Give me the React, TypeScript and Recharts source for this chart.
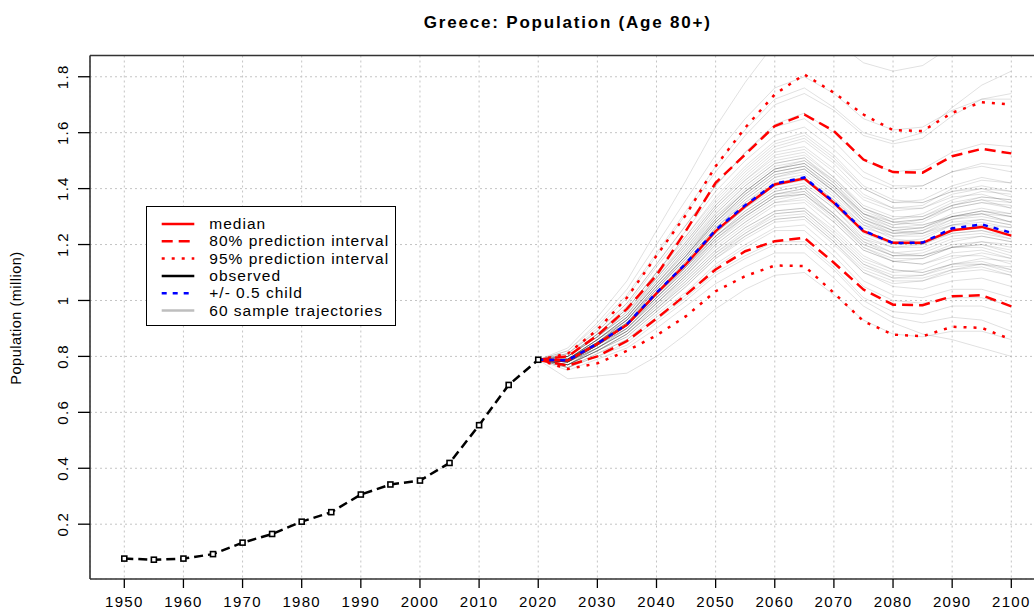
import React from 'react';
import { LineChart, Line, XAxis, YAxis, CartesianGrid, ReferenceLine } from 'recharts';

// years on the x axis (5-year steps)
const YEARS = [
  1950, 1955, 1960, 1965, 1970, 1975, 1980, 1985, 1990, 1995, 2000, 2005, 2010, 2015, 2020,
  2025, 2030, 2035, 2040, 2045, 2050, 2055, 2060, 2065, 2070, 2075, 2080, 2085, 2090, 2095, 2100,
];
const OBS_YEARS = [1950, 1955, 1960, 1965, 1970, 1975, 1980, 1985, 1990, 1995, 2000, 2005, 2010, 2015, 2020];
const OBSERVED = [0.077, 0.073, 0.077, 0.093, 0.134, 0.165, 0.209, 0.243, 0.306, 0.342, 0.356, 0.419, 0.554, 0.698, 0.788];

const PROJ_YEARS = [2020, 2025, 2030, 2035, 2040, 2045, 2050, 2055, 2060, 2065, 2070, 2075, 2080, 2085, 2090, 2095, 2100];
const MEDIAN = [0.788, 0.785, 0.845, 0.913, 1.025, 1.13, 1.248, 1.337, 1.415, 1.436, 1.349, 1.248, 1.206, 1.206, 1.251, 1.263, 1.232];
const HALF_CHILD = [0.788, 0.786, 0.846, 0.915, 1.028, 1.133, 1.252, 1.341, 1.418, 1.44, 1.352, 1.25, 1.205, 1.207, 1.258, 1.272, 1.242];
const PI80_LOW = [0.788, 0.767, 0.8, 0.855, 0.935, 1.021, 1.111, 1.176, 1.212, 1.224, 1.135, 1.039, 0.985, 0.983, 1.015, 1.019, 0.979];
const PI80_HIGH = [0.788, 0.8, 0.875, 0.97, 1.09, 1.25, 1.421, 1.522, 1.624, 1.665, 1.606, 1.504, 1.459, 1.457, 1.516, 1.542, 1.526];
const PI95_LOW = [0.788, 0.755, 0.775, 0.82, 0.875, 0.944, 1.033, 1.087, 1.125, 1.123, 1.027, 0.926, 0.878, 0.872, 0.906, 0.902, 0.86];
const PI95_HIGH = [0.788, 0.81, 0.895, 1.01, 1.16, 1.307, 1.48, 1.618, 1.737, 1.808, 1.743, 1.665, 1.609, 1.606, 1.671, 1.709, 1.701];

// 60 sample trajectories, 2025..2100 (all start from the 2020 observed value)
const TRAJECTORIES = [
  [0.79, 0.86, 0.94, 1.06, 1.18, 1.3, 1.4, 1.48, 1.5, 1.42, 1.32, 1.28, 1.29, 1.33, 1.35, 1.33],
  [0.78, 0.83, 0.89, 0.99, 1.09, 1.2, 1.28, 1.35, 1.37, 1.28, 1.18, 1.14, 1.13, 1.17, 1.18, 1.15],
  [0.8, 0.88, 0.97, 1.1, 1.23, 1.36, 1.47, 1.56, 1.59, 1.51, 1.4, 1.35, 1.36, 1.41, 1.44, 1.42],
  [0.77, 0.82, 0.88, 0.97, 1.06, 1.16, 1.23, 1.29, 1.3, 1.21, 1.1, 1.05, 1.04, 1.07, 1.08, 1.05],
  [0.79, 0.85, 0.92, 1.04, 1.15, 1.27, 1.36, 1.44, 1.47, 1.39, 1.29, 1.25, 1.26, 1.31, 1.33, 1.31],
  [0.78, 0.84, 0.9, 1.01, 1.11, 1.22, 1.31, 1.38, 1.4, 1.31, 1.21, 1.17, 1.18, 1.22, 1.23, 1.21],
  [0.81, 0.89, 0.99, 1.13, 1.27, 1.41, 1.53, 1.63, 1.67, 1.6, 1.5, 1.46, 1.47, 1.53, 1.56, 1.55],
  [0.76, 0.8, 0.85, 0.93, 1.01, 1.1, 1.16, 1.21, 1.21, 1.12, 1.01, 0.96, 0.95, 0.98, 0.98, 0.95],
  [0.79, 0.85, 0.93, 1.05, 1.16, 1.28, 1.38, 1.46, 1.48, 1.4, 1.3, 1.26, 1.27, 1.3, 1.31, 1.28],
  [0.78, 0.84, 0.91, 1.02, 1.12, 1.24, 1.33, 1.41, 1.43, 1.35, 1.25, 1.21, 1.22, 1.27, 1.29, 1.27],
  [0.8, 0.87, 0.95, 1.08, 1.2, 1.33, 1.43, 1.51, 1.53, 1.44, 1.33, 1.28, 1.27, 1.3, 1.31, 1.28],
  [0.77, 0.83, 0.89, 0.99, 1.08, 1.18, 1.26, 1.32, 1.33, 1.24, 1.14, 1.1, 1.11, 1.15, 1.17, 1.15],
  [0.79, 0.86, 0.94, 1.06, 1.17, 1.3, 1.39, 1.47, 1.49, 1.41, 1.3, 1.25, 1.24, 1.27, 1.27, 1.24],
  [0.78, 0.84, 0.91, 1.02, 1.13, 1.25, 1.34, 1.42, 1.44, 1.36, 1.26, 1.23, 1.24, 1.29, 1.31, 1.3],
  [0.82, 0.92, 1.04, 1.2, 1.36, 1.52, 1.65, 1.76, 1.8, 1.74, 1.65, 1.61, 1.62, 1.68, 1.72, 1.72],
  [0.72, 0.73, 0.74, 0.8, 0.88, 0.97, 1.04, 1.09, 1.1, 1.02, 0.93, 0.88, 0.87, 0.89, 0.89, 0.86],
  [0.79, 0.85, 0.92, 1.03, 1.14, 1.26, 1.35, 1.43, 1.45, 1.37, 1.27, 1.22, 1.21, 1.24, 1.25, 1.22],
  [0.78, 0.83, 0.9, 1.0, 1.1, 1.21, 1.29, 1.36, 1.38, 1.3, 1.2, 1.16, 1.17, 1.21, 1.23, 1.21],
  [0.8, 0.87, 0.96, 1.09, 1.21, 1.34, 1.45, 1.54, 1.57, 1.49, 1.38, 1.33, 1.33, 1.37, 1.38, 1.35],
  [0.77, 0.82, 0.87, 0.96, 1.05, 1.15, 1.22, 1.28, 1.29, 1.2, 1.1, 1.06, 1.07, 1.11, 1.13, 1.12],
  [0.79, 0.86, 0.93, 1.05, 1.16, 1.29, 1.39, 1.47, 1.5, 1.43, 1.33, 1.29, 1.3, 1.35, 1.37, 1.36],
  [0.78, 0.84, 0.91, 1.01, 1.11, 1.23, 1.31, 1.38, 1.39, 1.3, 1.19, 1.14, 1.13, 1.16, 1.16, 1.13],
  [0.8, 0.88, 0.98, 1.12, 1.25, 1.39, 1.5, 1.59, 1.62, 1.54, 1.44, 1.4, 1.41, 1.46, 1.49, 1.48],
  [0.77, 0.82, 0.88, 0.98, 1.07, 1.17, 1.25, 1.31, 1.32, 1.23, 1.13, 1.08, 1.08, 1.11, 1.12, 1.09],
  [0.79, 0.85, 0.92, 1.04, 1.15, 1.27, 1.37, 1.45, 1.47, 1.39, 1.28, 1.23, 1.23, 1.27, 1.28, 1.26],
  [0.78, 0.85, 0.92, 1.03, 1.14, 1.26, 1.35, 1.42, 1.44, 1.36, 1.27, 1.24, 1.25, 1.3, 1.32, 1.31],
  [0.81, 0.9, 1.01, 1.16, 1.31, 1.46, 1.59, 1.7, 1.74, 1.68, 1.59, 1.56, 1.58, 1.66, 1.72, 1.74],
  [0.76, 0.81, 0.86, 0.95, 1.03, 1.13, 1.2, 1.26, 1.27, 1.18, 1.07, 1.02, 1.01, 1.04, 1.04, 1.01],
  [0.79, 0.86, 0.94, 1.07, 1.19, 1.32, 1.42, 1.5, 1.52, 1.44, 1.34, 1.3, 1.3, 1.34, 1.36, 1.33],
  [0.78, 0.83, 0.9, 1.0, 1.1, 1.22, 1.3, 1.37, 1.38, 1.29, 1.19, 1.15, 1.15, 1.19, 1.2, 1.18],
  [0.8, 0.87, 0.95, 1.07, 1.19, 1.31, 1.41, 1.49, 1.51, 1.43, 1.33, 1.29, 1.31, 1.36, 1.39, 1.38],
  [0.77, 0.83, 0.89, 0.99, 1.09, 1.19, 1.27, 1.34, 1.35, 1.26, 1.16, 1.11, 1.1, 1.13, 1.13, 1.1],
  [0.79, 0.85, 0.93, 1.04, 1.15, 1.28, 1.38, 1.46, 1.48, 1.4, 1.31, 1.27, 1.28, 1.33, 1.35, 1.34],
  [0.78, 0.84, 0.91, 1.02, 1.12, 1.23, 1.32, 1.39, 1.41, 1.33, 1.23, 1.19, 1.19, 1.23, 1.24, 1.22],
  [0.83, 0.94, 1.07, 1.25, 1.43, 1.62, 1.78, 1.92, 1.98, 1.93, 1.85, 1.82, 1.84, 1.91, 1.95, 1.96],
  [0.76, 0.8, 0.84, 0.92, 1.0, 1.09, 1.15, 1.2, 1.2, 1.11, 1.0, 0.94, 0.92, 0.94, 0.93, 0.89],
  [0.79, 0.86, 0.94, 1.06, 1.18, 1.31, 1.41, 1.49, 1.51, 1.42, 1.31, 1.26, 1.26, 1.3, 1.32, 1.3],
  [0.78, 0.84, 0.9, 1.01, 1.11, 1.22, 1.3, 1.37, 1.39, 1.31, 1.22, 1.19, 1.2, 1.25, 1.27, 1.26],
  [0.8, 0.88, 0.97, 1.1, 1.23, 1.37, 1.48, 1.57, 1.6, 1.52, 1.41, 1.36, 1.35, 1.39, 1.4, 1.37],
  [0.77, 0.82, 0.88, 0.97, 1.06, 1.16, 1.24, 1.3, 1.31, 1.22, 1.12, 1.08, 1.09, 1.13, 1.15, 1.14],
  [0.79, 0.85, 0.92, 1.03, 1.14, 1.26, 1.36, 1.44, 1.46, 1.38, 1.28, 1.24, 1.25, 1.29, 1.3, 1.28],
  [0.78, 0.84, 0.91, 1.02, 1.13, 1.24, 1.33, 1.4, 1.42, 1.34, 1.24, 1.2, 1.2, 1.24, 1.25, 1.23],
  [0.8, 0.87, 0.96, 1.08, 1.21, 1.34, 1.44, 1.53, 1.55, 1.47, 1.37, 1.33, 1.34, 1.4, 1.43, 1.42],
  [0.77, 0.83, 0.89, 0.98, 1.08, 1.18, 1.26, 1.32, 1.33, 1.25, 1.15, 1.11, 1.1, 1.13, 1.14, 1.11],
  [0.79, 0.86, 0.93, 1.05, 1.16, 1.28, 1.38, 1.46, 1.48, 1.39, 1.29, 1.24, 1.24, 1.28, 1.29, 1.27],
  [0.78, 0.83, 0.89, 0.99, 1.09, 1.2, 1.28, 1.35, 1.36, 1.28, 1.18, 1.14, 1.15, 1.19, 1.21, 1.2],
  [0.81, 0.89, 0.99, 1.13, 1.27, 1.41, 1.53, 1.62, 1.65, 1.57, 1.46, 1.41, 1.41, 1.46, 1.48, 1.46],
  [0.76, 0.81, 0.86, 0.94, 1.02, 1.12, 1.19, 1.25, 1.25, 1.16, 1.05, 1.0, 0.99, 1.01, 1.01, 0.98],
  [0.79, 0.85, 0.93, 1.04, 1.16, 1.28, 1.37, 1.45, 1.47, 1.39, 1.29, 1.25, 1.26, 1.3, 1.32, 1.3],
  [0.78, 0.84, 0.91, 1.01, 1.12, 1.23, 1.32, 1.39, 1.41, 1.33, 1.22, 1.17, 1.16, 1.19, 1.19, 1.16],
  [0.8, 0.87, 0.95, 1.08, 1.2, 1.33, 1.43, 1.52, 1.54, 1.46, 1.36, 1.32, 1.33, 1.38, 1.4, 1.39],
  [0.77, 0.82, 0.88, 0.97, 1.07, 1.17, 1.24, 1.31, 1.32, 1.23, 1.13, 1.09, 1.09, 1.12, 1.13, 1.11],
  [0.79, 0.86, 0.94, 1.06, 1.17, 1.29, 1.39, 1.47, 1.49, 1.41, 1.31, 1.27, 1.29, 1.34, 1.36, 1.35],
  [0.78, 0.84, 0.9, 1.0, 1.1, 1.21, 1.3, 1.37, 1.38, 1.3, 1.2, 1.16, 1.16, 1.2, 1.21, 1.19],
  [0.82, 0.91, 1.02, 1.17, 1.32, 1.48, 1.61, 1.72, 1.76, 1.69, 1.6, 1.57, 1.6, 1.69, 1.77, 1.82],
  [0.75, 0.79, 0.83, 0.9, 0.98, 1.06, 1.12, 1.17, 1.17, 1.08, 0.98, 0.92, 0.88, 0.86, 0.83, 0.8],
  [0.79, 0.85, 0.93, 1.05, 1.16, 1.29, 1.39, 1.47, 1.49, 1.41, 1.31, 1.28, 1.29, 1.34, 1.37, 1.36],
  [0.78, 0.84, 0.91, 1.01, 1.12, 1.23, 1.31, 1.38, 1.4, 1.31, 1.21, 1.16, 1.16, 1.19, 1.2, 1.17],
  [0.8, 0.88, 0.97, 1.1, 1.22, 1.35, 1.46, 1.55, 1.58, 1.5, 1.4, 1.35, 1.35, 1.39, 1.41, 1.39],
  [0.77, 0.82, 0.87, 0.96, 1.05, 1.15, 1.23, 1.29, 1.3, 1.21, 1.11, 1.07, 1.07, 1.1, 1.11, 1.09],
];

const X_TICKS = [1950, 1960, 1970, 1980, 1990, 2000, 2010, 2020, 2030, 2040, 2050, 2060, 2070, 2080, 2090, 2100];
const Y_TICKS = [0.2, 0.4, 0.6, 0.8, 1, 1.2, 1.4, 1.6, 1.8];

const X_DOMAIN = [1944.2, 2105.8];
const Y_DOMAIN = [0.004, 1.876];

const FONT = '"Liberation Sans", Arial, sans-serif';

const table = YEARS.map((year) => {
  const row: Record<string, number | null> = { year };
  const oi = OBS_YEARS.indexOf(year);
  row.observed = oi >= 0 ? OBSERVED[oi] : null;
  const pi = PROJ_YEARS.indexOf(year);
  const pick = (arr: number[]) => (pi >= 0 ? arr[pi] : null);
  row.median = pick(MEDIAN);
  row.half = pick(HALF_CHILD);
  row.lo80 = pick(PI80_LOW);
  row.hi80 = pick(PI80_HIGH);
  row.lo95 = pick(PI95_LOW);
  row.hi95 = pick(PI95_HIGH);
  TRAJECTORIES.forEach((t, k) => {
    row['t' + k] = pi < 0 ? null : pi === 0 ? OBSERVED[OBSERVED.length - 1] : t[pi - 1];
  });
  return row;
});

const XTick = (props: any) => {
  const { x, y, payload } = props;
  return (
    <text x={x} y={y + 17} textAnchor="middle" fontSize={15} letterSpacing={1.3} fill="#000" fontFamily={FONT}>
      {payload.value}
    </text>
  );
};

const YTick = (props: any) => {
  const { y, payload } = props;
  return (
    <text
      x={68}
      y={y}
      transform={`rotate(-90, 68, ${y})`}
      textAnchor="middle"
      fontSize={15}
      letterSpacing={1.3}
      fill="#000"
      fontFamily={FONT}
    >
      {String(payload.value)}
    </text>
  );
};

const SquareDot = (props: any) => {
  const { cx, cy, index } = props;
  if (cx == null || cy == null) return <g key={'d' + index} />;
  return <rect key={'d' + index} x={cx - 2.5} y={cy - 2.5} width={5} height={5} fill="#fff" stroke="#000" strokeWidth={1.6} />;
};

const LEGEND = [
  { label: 'median', color: '#ff0000', dash: undefined },
  { label: '80% prediction interval', color: '#ff0000', dash: '11 6' },
  { label: '95% prediction interval', color: '#ff0000', dash: '3 7' },
  { label: 'observed', color: '#000000', dash: undefined },
  { label: '+/- 0.5 child', color: '#0000ff', dash: '5 6' },
  { label: '60 sample trajectories', color: '#bebebe', dash: undefined },
];

export default function App() {
  return (
    <div style={{ position: 'absolute', left: 0, top: 0, width: 1034, height: 611, overflow: 'hidden', background: '#fff' }}>
      <LineChart width={1060} height={611} data={table} margin={{ top: 55.5, right: 14.4, bottom: 0, left: 0 }}>
        <CartesianGrid stroke="#c4c4c4" strokeDasharray="2 3" />
        <XAxis
          dataKey="year"
          type="number"
          domain={X_DOMAIN}
          ticks={X_TICKS}
          interval={0}
          allowDataOverflow
          height={32}
          axisLine={false}
          tickLine={{ stroke: '#000', strokeWidth: 1.3 }}
          tickSize={9}
          tick={<XTick />}
        />
        <YAxis
          type="number"
          domain={Y_DOMAIN}
          ticks={Y_TICKS}
          interval={0}
          allowDataOverflow
          width={90}
          axisLine={false}
          tickLine={{ stroke: '#000', strokeWidth: 1.3 }}
          tickSize={12}
          tick={<YTick />}
        />
        {TRAJECTORIES.map((_, k) => (
          <Line
            key={'t' + k}
            dataKey={'t' + k}
            stroke="#000"
            strokeOpacity={0.12}
            strokeWidth={1}
            dot={false}
            type="linear"
            isAnimationActive={false}
          />
        ))}
        <Line dataKey="lo95" stroke="#ff0000" strokeWidth={2.5} strokeDasharray="3 7" dot={false} type="linear" isAnimationActive={false} />
        <Line dataKey="hi95" stroke="#ff0000" strokeWidth={2.5} strokeDasharray="3 7" dot={false} type="linear" isAnimationActive={false} />
        <Line dataKey="lo80" stroke="#ff0000" strokeWidth={2.5} strokeDasharray="11 6" dot={false} type="linear" isAnimationActive={false} />
        <Line dataKey="hi80" stroke="#ff0000" strokeWidth={2.5} strokeDasharray="11 6" dot={false} type="linear" isAnimationActive={false} />
        <Line dataKey="median" stroke="#ff0000" strokeWidth={2.5} dot={false} type="linear" isAnimationActive={false} />
        <Line dataKey="half" stroke="#0000ff" strokeWidth={2.5} strokeDasharray="5 6" dot={false} type="linear" isAnimationActive={false} />
        <Line
          dataKey="observed"
          stroke="#000"
          strokeWidth={2.5}
          strokeDasharray="9 5"
          dot={SquareDot}
          type="linear"
          isAnimationActive={false}
        />
        <ReferenceLine y={Y_DOMAIN[0]} stroke="#333" strokeWidth={1.6} ifOverflow="visible" />
        <ReferenceLine y={Y_DOMAIN[1]} stroke="#333" strokeWidth={1.6} ifOverflow="visible" />
        <ReferenceLine x={X_DOMAIN[0]} stroke="#333" strokeWidth={1.6} ifOverflow="visible" />
      </LineChart>

      <svg width={1034} height={611} style={{ position: 'absolute', left: 0, top: 0, pointerEvents: 'none' }}>
        <text x={567.8} y={27.5} textAnchor="middle" fontSize={17} fontWeight="bold" letterSpacing={1.8} fontFamily={FONT} fill="#000">
          Greece: Population (Age 80+)
        </text>
        <text
          x={21}
          y={318}
          transform="rotate(-90, 21, 318)"
          textAnchor="middle"
          fontSize={14.5}
          letterSpacing={0.5}
          fontFamily={FONT}
          fill="#000"
        >
          Population (million)
        </text>
        <g>
          <rect x={146.5} y={206.5} width={249} height={119} fill="#fff" stroke="#000" strokeWidth={1} />
          {LEGEND.map((item, i) => {
            const ly = 224 + i * 17.3;
            return (
              <g key={item.label}>
                <line x1={161.7} x2={194.3} y1={ly} y2={ly} stroke={item.color} strokeWidth={2.5} strokeDasharray={item.dash} />
                <text x={209.3} y={ly + 5} fontSize={15.5} letterSpacing={1} fontFamily={FONT} fill="#000">
                  {item.label}
                </text>
              </g>
            );
          })}
        </g>
      </svg>
    </div>
  );
}
